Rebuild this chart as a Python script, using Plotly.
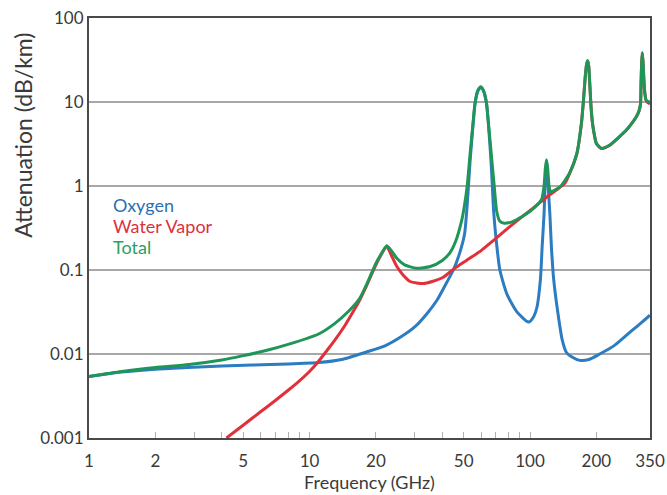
import plotly.graph_objects as go

# ---- data ----
oxygen_f = [1, 1.4, 2, 2.8, 4, 5.5, 8, 11, 14, 18, 22, 26, 30, 34, 37.9, 42, 44.9, 48, 50.5,
            51.9, 53.5, 55.3, 56.3, 57.9, 59.8, 61.6, 63.5, 64.6, 66.7, 68.4, 70.6, 73, 78.5,
            87, 98.5, 104, 107.5, 111.5, 113.5, 115.8, 117.3, 118.75, 120.3, 123, 125, 128,
            134, 140, 146, 155, 168, 185, 207, 240, 270, 294, 320, 350]
oxygen_a = [0.0054, 0.0061, 0.0066, 0.0069, 0.0072, 0.0074, 0.0076, 0.0079, 0.0086, 0.0105,
            0.0125, 0.016, 0.021, 0.03, 0.044, 0.072, 0.1, 0.16, 0.27,
            0.6, 2.0, 5.8, 9.5, 13.5, 15.1, 13.5, 9.6, 6.0, 1.8, 0.5, 0.2, 0.1, 0.052,
            0.032, 0.024, 0.028, 0.036, 0.078, 0.19, 0.47, 1.2, 2.0, 1.2, 0.47, 0.19, 0.078,
            0.03, 0.0147, 0.0105, 0.0092, 0.0084, 0.0086, 0.0100, 0.0125, 0.0162, 0.0196,
            0.0236, 0.029]

vapor_f = [4.2, 5, 6, 7, 8, 9, 10, 11, 12, 13, 14.5, 16, 16.9, 18, 19.5, 21, 22.4,
           23.5, 24.9, 26.5, 28.6, 32.8, 36, 40.4, 45.6, 51.5, 60, 69, 80, 95, 108, 120,
           132, 144, 151, 163, 171, 175, 178, 180.5, 182.5, 184.5, 186.5, 189, 192, 196,
           200, 211, 230, 250, 273, 290, 304, 312, 317, 319, 321, 323, 325.5, 328.5, 332,
           336, 342, 350]
vapor_a = [0.001, 0.00142, 0.00205, 0.0028, 0.0037, 0.0048, 0.0062, 0.0082, 0.011, 0.0145,
           0.022, 0.034, 0.044, 0.062, 0.1, 0.148, 0.19, 0.15, 0.11, 0.088, 0.073, 0.069,
           0.073, 0.082, 0.105, 0.13, 0.17, 0.23, 0.32, 0.46, 0.6, 0.75, 0.9, 1.08, 1.4,
           2.4, 5.5, 11, 20, 28, 31, 27, 17, 9, 5.6, 4.0, 3.2, 2.8, 3.05, 3.7, 4.6, 5.6,
           6.7, 7.8, 9.5, 18, 30, 38.6, 30, 18, 12.5, 10.5, 9.8, 9.5]

total_f = [1, 1.41, 2, 2.84, 4, 4.95, 6.35, 8.07, 11, 13, 15, 16.9, 18.5, 20, 21.3, 22.4,
           23.5, 24.9, 27, 30.6, 35.3, 40, 43.3, 46, 49, 50.5, 51.9, 53.5, 55.3, 56.3, 57.9,
           59.8, 61.6, 63.5, 64.6, 66.7, 68.8, 70.6, 73, 76.6, 84, 91.7, 100, 108, 113,
           115.8, 117.3, 118.75, 120.3, 122, 124, 130, 137, 151, 163, 171, 175, 178, 180.5,
           182.5, 184.5, 186.5, 189, 192, 196, 200, 211, 230, 250, 273, 290, 304, 312, 317,
           319, 321, 323, 325.5, 328.5, 332, 336, 342, 350]
total_a = [0.0054, 0.0062, 0.0069, 0.0075, 0.0085, 0.0095, 0.011, 0.0131, 0.0173, 0.023,
           0.032, 0.046, 0.075, 0.12, 0.16, 0.195, 0.17, 0.138, 0.115, 0.105, 0.11, 0.13,
           0.16, 0.22, 0.39, 0.6, 1.0, 2.43, 6.05, 9.6, 13.5, 15.1, 13.5, 9.6, 6.05, 2.43,
           1.0, 0.5, 0.38, 0.36, 0.38, 0.43, 0.5, 0.6, 0.7, 1.0, 1.6, 2.05, 1.6, 1.0, 0.85,
           0.9, 0.98, 1.42, 2.45, 5.6, 11, 20, 28, 31, 27, 17, 9, 5.6, 4.0, 3.2, 2.8, 3.07,
           3.7, 4.6, 5.6, 6.7, 7.8, 9.5, 18, 30, 38.6, 30, 18, 12.5, 10.5, 10.2, 10]

y_tickvals = [0.001, 0.01, 0.1, 1, 10, 100]
y_ticktext = ["0.001", "0.01", "0.1", "1", "10", "100"]
x_tickvals = [1, 2, 5, 10, 20, 50, 100, 200, 350]
x_ticktext = ["1", "2", "5", "10", "20", "50", "100", "200", "350"]
x_minor = [3, 4, 6, 7, 8, 9, 30, 40, 60, 70, 80, 90]

BLUE = "#2b7cc0"
RED = "#e0303a"
GREEN = "#1f9657"
FONT = "Lato"
TXT = "#3a3a3a"

fig = go.Figure()
fig.add_trace(go.Scatter(x=oxygen_f, y=oxygen_a, mode="lines", name="Oxygen",
                         line=dict(color=BLUE, width=3, shape="spline", smoothing=0.6)))
fig.add_trace(go.Scatter(x=vapor_f, y=vapor_a, mode="lines", name="Water Vapor",
                         line=dict(color=RED, width=3, shape="spline", smoothing=0.6)))
fig.add_trace(go.Scatter(x=total_f, y=total_a, mode="lines", name="Total",
                         line=dict(color=GREEN, width=3, shape="spline", smoothing=0.6)))

fig.update_layout(
    width=667, height=495,
    margin=dict(l=89, r=17, t=18, b=57, autoexpand=False),
    paper_bgcolor="white", plot_bgcolor="white",
    showlegend=False,
    font=dict(family=FONT, size=17, color=TXT),
    xaxis=dict(type="log", range=[0, 2.5441], tickmode="array",
               tickvals=x_tickvals, ticktext=x_ticktext,
               ticks="inside", ticklen=6, tickwidth=1, tickcolor="#b0b0b0",
               ticklabelstandoff=7,
               showgrid=False, zeroline=False,
               showline=True, mirror=True, linecolor="#4a4a4a", linewidth=2,
               tickfont=dict(family=FONT, size=17, color=TXT),
               minor=dict(tickmode="array", tickvals=x_minor, ticks="inside",
                          ticklen=6, tickwidth=1, tickcolor="#b0b0b0", showgrid=False),
               title=dict(text="Frequency (GHz)", font=dict(family=FONT, size=18, color=TXT),
                          standoff=4)),
    yaxis=dict(type="log", range=[-3, 2], tickmode="array",
               tickvals=y_tickvals, ticktext=y_ticktext,
               ticks="", showgrid=True, gridcolor="#a8a8a8", gridwidth=2,
               zeroline=False, showline=True, mirror=True,
               linecolor="#4a4a4a", linewidth=2,
               tickfont=dict(family=FONT, size=17, color=TXT)),
    annotations=[
        dict(text="Attenuation (dB/km)", xref="paper", yref="paper",
             x=-0.119, y=0.72, xanchor="center", yanchor="middle",
             textangle=-90, showarrow=False,
             font=dict(family=FONT, size=23, color=TXT)),
        dict(text="Oxygen", xref="paper", yref="paper", x=0.039, y=0.555,
             xanchor="left", yanchor="middle", showarrow=False,
             font=dict(family=FONT, size=18, color="#2c6fb5")),
        dict(text="Water Vapor", xref="paper", yref="paper", x=0.039, y=0.505,
             xanchor="left", yanchor="middle", showarrow=False,
             font=dict(family=FONT, size=18, color="#dc3040")),
        dict(text="Total", xref="paper", yref="paper", x=0.039, y=0.455,
             xanchor="left", yanchor="middle", showarrow=False,
             font=dict(family=FONT, size=18, color="#2aa060")),
    ],
)

fig.write_html("out.html", config={"displayModeBar": False},
               post_script="document.body.style.margin='0';document.body.style.padding='0';")
